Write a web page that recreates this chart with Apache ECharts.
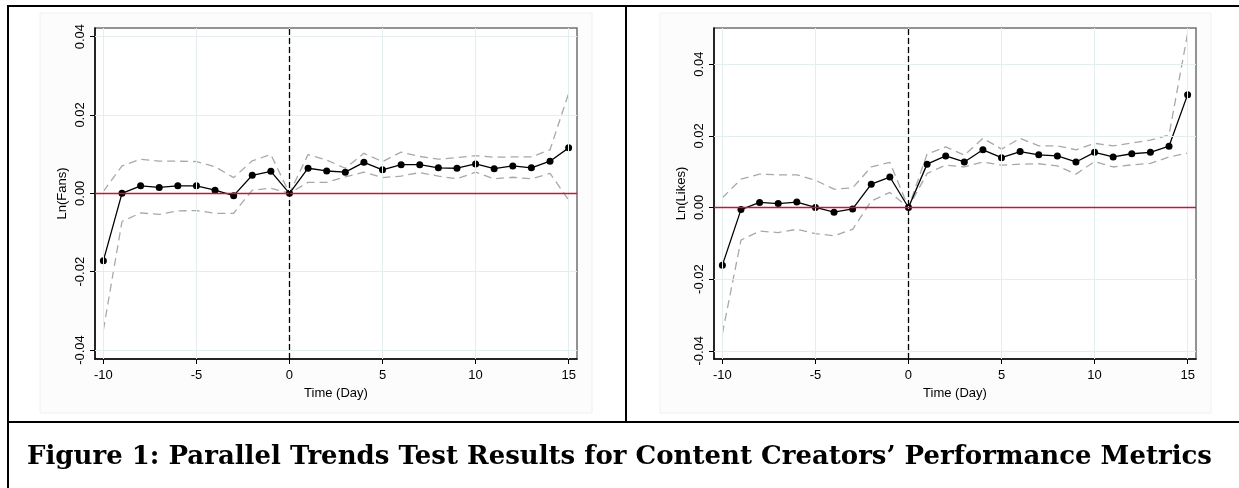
<!DOCTYPE html>
<html>
<head>
<meta charset="utf-8">
<script src="https://cdn.jsdelivr.net/npm/echarts@6/dist/echarts.min.js"></script>
<style>
html,body{margin:0;padding:0;background:#fff;}
#chart{width:1239px;height:488px;}
</style>
</head>
<body>
<div id="chart"></div>
<script>
// ---- data ----
var days = [-10,-9,-8,-7,-6,-5,-4,-3,-2,-1,0,1,2,3,4,5,6,7,8,9,10,11,12,13,14,15];
var fansCoef  = [-0.0172,0.0000,0.0019,0.0015,0.0019,0.0019,0.0008,-0.0006,0.0046,0.0056,0,0.0064,0.0057,0.0054,0.0079,0.0060,0.0073,0.0073,0.0065,0.0064,0.0075,0.0063,0.0070,0.0065,0.0082,0.0116];
var fansUpper = [0.0005,0.0070,0.0087,0.0082,0.0082,0.0081,0.0068,0.0040,0.0083,0.0099,0,0.0099,0.0085,0.0064,0.0102,0.0081,0.0105,0.0094,0.0087,0.0091,0.0096,0.0092,0.0093,0.0093,0.0111,0.0255];
var fansLower = [-0.0349,-0.0072,-0.0050,-0.0054,-0.0045,-0.0044,-0.0051,-0.0051,0.0008,0.0013,0,0.0028,0.0028,0.0042,0.0054,0.0040,0.0044,0.0053,0.0044,0.0037,0.0054,0.0037,0.0041,0.0037,0.0051,-0.0017];
var likesCoef  = [-0.0161,-0.0006,0.0014,0.0011,0.0015,0.0000,-0.0013,-0.0004,0.0065,0.0085,0,0.0121,0.0144,0.0127,0.0161,0.0139,0.0156,0.0147,0.0144,0.0127,0.0154,0.0141,0.0150,0.0154,0.0171,0.0315];
var likesUpper = [0.0027,0.0079,0.0093,0.0091,0.0091,0.0076,0.0051,0.0055,0.0113,0.0126,0,0.0149,0.0169,0.0146,0.0193,0.0163,0.0193,0.0172,0.0172,0.0161,0.0179,0.0172,0.0180,0.0188,0.0202,0.0486];
var likesLower = [-0.0352,-0.0091,-0.0066,-0.0070,-0.0061,-0.0073,-0.0079,-0.0061,0.0018,0.0042,0,0.0095,0.0118,0.0113,0.0127,0.0118,0.0121,0.0122,0.0116,0.0093,0.0128,0.0113,0.0119,0.0123,0.0141,0.0152];
var xTicks = [-10,-5,0,5,10,15];
var yTicks = [-0.04,-0.02,0,0.02,0.04];
var xTitle = 'Time (Day)';
var yTitles = ['Ln(Fans)','Ln(Likes)'];
var figTitle = 'Figure 1: Parallel Trends Test Results for Content Creators\u2019 Performance Metrics';

function pairs(xs, ys){ return xs.map(function(x,i){ return [x, ys[i]]; }); }

var chart = echarts.init(document.getElementById('chart'), null, {renderer:'canvas'});
var FONT = '"Liberation Sans", Arial, sans-serif';
var gridColor = '#e4eeef';

function xAxisCfg(gi){
  return {
    type:'value', gridIndex:gi, min:-10.45, max:15.45,
    name:xTitle, nameLocation:'middle', nameGap:27,
    nameTextStyle:{color:'#000', fontFamily:FONT, fontSize:13},
    axisLine:{show:true, onZero:false, lineStyle:{color:'#000', width:1.5}},
    axisTick:{show:true, customValues:xTicks, length:5, lineStyle:{color:'#000', width:1}},
    axisLabel:{show:true, customValues:xTicks, margin:10, color:'#000', fontFamily:FONT, fontSize:13,
      formatter:function(v){ return String(Math.round(v)); }},
    splitLine:{show:false}
  };
}
function yAxisCfg(gi, min, max){
  return {
    type:'value', gridIndex:gi, min:min, max:max,
    name:yTitles[gi], nameLocation:'middle', nameGap:26, nameRotate:90,
    nameTextStyle:{color:'#000', fontFamily:FONT, fontSize:13},
    axisLine:{show:true, onZero:false, lineStyle:{color:'#000', width:1.5}},
    axisTick:{show:true, customValues:yTicks, length:5, lineStyle:{color:'#000', width:1}},
    axisLabel:{show:true, customValues:yTicks, rotate:90, margin:8, color:'#000', fontFamily:FONT, fontSize:13,
      formatter:function(v){ return v.toFixed(2); }},
    splitLine:{show:false}
  };
}

function seriesFor(gi, coef, upper, lower){
  var ciColor = '#a8a8a8';
  return [
    { // grid lines
      type:'line', xAxisIndex:gi, yAxisIndex:gi, data:[], silent:true, z:1,
      markLine:{ silent:true, symbol:['none','none'], label:{show:false}, animation:false,
        lineStyle:{color:gridColor, width:1, type:'solid'},
        data: xTicks.map(function(v){ return {xAxis:v}; })
          .concat(yTicks.map(function(v){ return {yAxis:v}; })) }
    },
    { // zero reference line (red)
      type:'line', xAxisIndex:gi, yAxisIndex:gi, data:[], silent:true, z:2,
      markLine:{ silent:true, symbol:['none','none'], label:{show:false}, animation:false,
        lineStyle:{color:'#c8143c', width:1.3, type:'solid', opacity:1},
        emphasis:{disabled:true},
        data:[ {yAxis:0} ] }
    },
    { // event line
      type:'line', xAxisIndex:gi, yAxisIndex:gi, data:[], silent:true, z:2,
      markLine:{ silent:true, symbol:['none','none'], label:{show:false}, animation:false,
        lineStyle:{color:'#000', width:1.3, type:[6,3]},
        data:[ {xAxis:0} ] }
    },
    { type:'line', xAxisIndex:gi, yAxisIndex:gi, data:pairs(days, upper), showSymbol:false, silent:true, z:3,
      lineStyle:{color:ciColor, width:1.3, type:[8,5]} },
    { type:'line', xAxisIndex:gi, yAxisIndex:gi, data:pairs(days, lower), showSymbol:false, silent:true, z:3,
      lineStyle:{color:ciColor, width:1.3, type:[8,5]} },
    { type:'line', xAxisIndex:gi, yAxisIndex:gi, data:pairs(days, coef), silent:true, z:4,
      symbol:'circle', symbolSize:7, showSymbol:true,
      itemStyle:{color:'#000'}, lineStyle:{color:'#000', width:1.3} }
  ];
}

var option = {
  animation:false,
  backgroundColor:'#fff',
  title:{ text:figTitle, left:'center', top:439,
    textStyle:{fontFamily:'"DejaVu Serif", Georgia, serif', fontWeight:'bold', fontSize:26, color:'#000'} },
  graphic:[
    {type:'rect', shape:{x:40, y:13, width:552, height:400}, style:{fill:'#fcfcfc', stroke:'#f0f0f0', lineWidth:1}, z:-10, silent:true},
    {type:'rect', shape:{x:660, y:13, width:551, height:400}, style:{fill:'#fcfcfc', stroke:'#f0f0f0', lineWidth:1}, z:-10, silent:true},
    {type:'line', shape:{x1:7, y1:6, x2:1239, y2:6}, style:{stroke:'#000', lineWidth:2}, z:100, silent:true},
    {type:'line', shape:{x1:8, y1:5, x2:8, y2:488}, style:{stroke:'#000', lineWidth:2}, z:100, silent:true},
    {type:'line', shape:{x1:626, y1:5, x2:626, y2:422}, style:{stroke:'#000', lineWidth:2}, z:100, silent:true},
    {type:'line', shape:{x1:7, y1:422, x2:1239, y2:422}, style:{stroke:'#000', lineWidth:2}, z:100, silent:true}
  ],
  grid:[
    {left:95, top:28, width:482, height:331, show:true, backgroundColor:'#fff', borderColor:'#707070', borderWidth:1.5},
    {left:714, top:28, width:482, height:331, show:true, backgroundColor:'#fff', borderColor:'#707070', borderWidth:1.5}
  ],
  xAxis:[xAxisCfg(0), xAxisCfg(1)],
  yAxis:[yAxisCfg(0, -0.0423, 0.0422), yAxisCfg(1, -0.0423, 0.0501)],
  series: seriesFor(0, fansCoef, fansUpper, fansLower).concat(seriesFor(1, likesCoef, likesUpper, likesLower))
};
chart.setOption(option);
</script>
</body>
</html>
